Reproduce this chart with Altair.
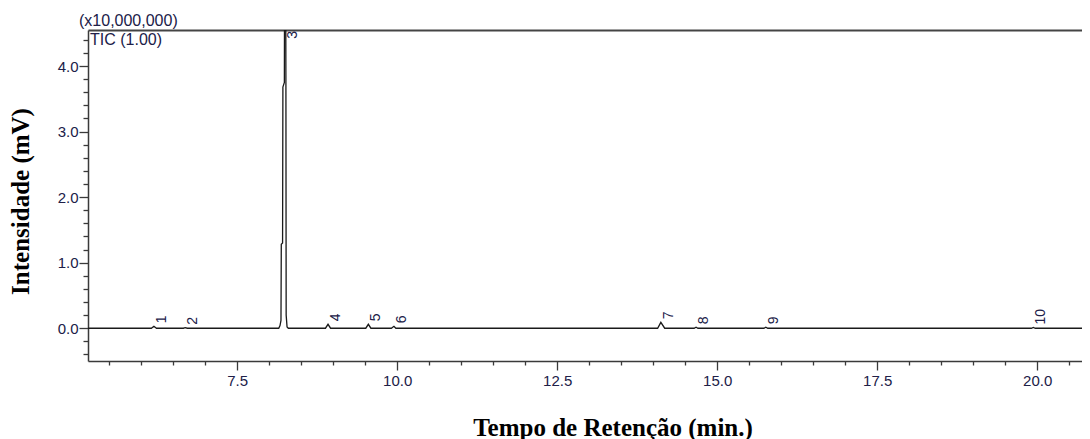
import altair as alt
import pandas as pd

# ---- data (intensity in units of 10,000,000) ----
trace_time = [5.17, 6.16, 6.20, 6.24, 6.66, 6.69, 6.72, 8.15, 8.17, 8.185, 8.19, 8.21,
              8.215, 8.238, 8.242, 8.258, 8.262, 8.266, 8.28, 8.30, 8.88, 8.92, 8.96,
              9.51, 9.55, 9.59, 9.91, 9.95, 9.98, 14.07, 14.12, 14.18, 14.64, 14.67,
              14.70, 15.73, 15.76, 15.79, 19.91, 19.94, 19.97, 20.83]
trace_intensity = [0, 0, 0.03, 0, 0, 0.008, 0, 0, 0.04, 0.12, 1.28, 1.30,
                   3.68, 3.75, 5.8, 5.8, 3.86, 0.2, 0.02, 0, 0, 0.06, 0,
                   0, 0.06, 0, 0, 0.03, 0, 0, 0.09, 0, 0, 0.015,
                   0, 0, 0.015, 0, 0, 0.012, 0, 0]

peak_numbers = ["1", "2", "3", "4", "5", "6", "7", "8", "9", "10"]
peak_times = [6.20, 6.69, 8.25, 8.92, 9.55, 9.95, 14.12, 14.67, 15.76, 19.94]
peak_heights = [0.03, 0.008, 5.8, 0.06, 0.06, 0.03, 0.09, 0.015, 0.015, 0.012]

x_major = [7.5, 10.0, 12.5, 15.0, 17.5, 20.0]
x_minor = [5.5, 6.0, 6.5, 7.0, 8.0, 8.5, 9.0, 9.5, 10.5, 11.0, 11.5, 12.0, 13.0, 13.5,
           14.0, 14.5, 15.5, 16.0, 16.5, 17.0, 18.0, 18.5, 19.0, 19.5, 20.5]
y_major = [0.0, 1.0, 2.0, 3.0, 4.0]
y_minor = [-0.4, -0.2, 0.2, 0.4, 0.6, 0.8, 1.2, 1.4, 1.6, 1.8, 2.2, 2.4, 2.6, 2.8,
           3.2, 3.4, 3.6, 3.8, 4.2, 4.4]
x_domain = [5.17, 20.70]
y_domain = [-0.5, 4.55]

scale_label = ["(x10,000,000)"]
trace_label = ["TIC (1.00)"]

x_title = "Tempo de Retenção (min.)"
y_title = "Intensidade (mV)"

# ---- tables ----
trace = pd.DataFrame({"t": trace_time, "i": trace_intensity})
peaks = pd.DataFrame({"n": peak_numbers, "t": peak_times, "h": peak_heights})

AX = "#3a3a3a"
TXT = "#202048"
SANS = "Liberation Sans"
SERIF = "Liberation Serif"

xs = alt.Scale(domain=x_domain, nice=False, zero=False)
ys = alt.Scale(domain=y_domain, nice=False, zero=False)

base = alt.Chart(trace)

main = base.mark_line(clip=True, color="#1a1a1a", strokeWidth=1.3).encode(
    x=alt.X("t:Q", scale=xs, axis=alt.Axis(
        orient="bottom", values=x_major, format=".1f", tickSize=9, tickWidth=1.3,
        tickColor=AX, domainColor=AX, domainWidth=1.5, labelFont=SANS,
        labelFontSize=15, labelColor=TXT, labelPadding=3, grid=False,
        title=x_title, titleFont=SERIF, titleFontSize=25, titleFontWeight="bold",
        titleColor="#000000", titleX=524.5, titleY=74, titleAlign="center",
        titleBaseline="alphabetic", labelFlush=False)),
    y=alt.Y("i:Q", scale=ys, axis=alt.Axis(
        orient="left", values=y_major, format=".1f", tickSize=9, tickWidth=1.3,
        tickColor=AX, domainColor=AX, domainWidth=1.5, labelFont=SANS,
        labelFontSize=15, labelColor=TXT, labelPadding=1, grid=False,
        title=y_title, titleFont=SERIF, titleFontSize=25, titleFontWeight="bold",
        titleColor="#000000", titleX=-59.5, titleY=171, titleAlign="center",
        titleAngle=270, titleBaseline="alphabetic", labelFlush=False)),
)

minor = base.mark_line(opacity=0).encode(
    x=alt.X("t:Q", scale=xs, axis=alt.Axis(
        orient="bottom", values=x_minor, tickSize=4, tickWidth=1.3, tickColor=AX,
        labels=False, domain=False, grid=False, title=None)),
    y=alt.Y("i:Q", scale=ys, axis=alt.Axis(
        orient="left", values=y_minor, tickSize=5, tickWidth=1.3, tickColor=AX,
        labels=False, domain=False, grid=False, title=None)),
)

top = base.mark_line(opacity=0).encode(
    x=alt.X("t:Q", scale=xs, axis=alt.Axis(
        orient="top", ticks=False, labels=False, domain=True, domainColor="#444444",
        domainWidth=2, grid=False, title=None)),
    y=alt.Y("i:Q", scale=ys, axis=None),
)

labels = alt.Chart(peaks).transform_calculate(
    ly="min(datum.h, 4.37)"
).mark_text(angle=270, align="left", baseline="top", dx=3, dy=1,
            font=SANS, fontSize=14, color=TXT).encode(
    x=alt.X("t:Q", scale=xs, axis=None),
    y=alt.Y("ly:Q", scale=ys, axis=None),
    text="n:N",
)

ann1 = alt.Chart(pd.DataFrame({"s": scale_label})).mark_text(
    align="left", baseline="alphabetic", font=SANS, fontSize=16, color=TXT
).encode(x=alt.value(-9), y=alt.value(-4), text="s:N")

ann2 = alt.Chart(pd.DataFrame({"s": trace_label})).mark_text(
    align="left", baseline="alphabetic", font=SANS, fontSize=16, color=TXT
).encode(x=alt.value(2), y=alt.value(14.5), text="s:N")

chart = alt.layer(main, minor, top, labels, ann1, ann2).resolve_axis(
    x="independent", y="independent"
).properties(
    width=994, height=331,
    autosize=alt.AutoSizeParams(type="none"),
    padding={"left": 80, "top": 22, "right": 0, "bottom": 82},
    background="#ffffff",
).configure_view(stroke=None)

chart.save("out.html", embed_options={"renderer": "svg", "actions": False})
